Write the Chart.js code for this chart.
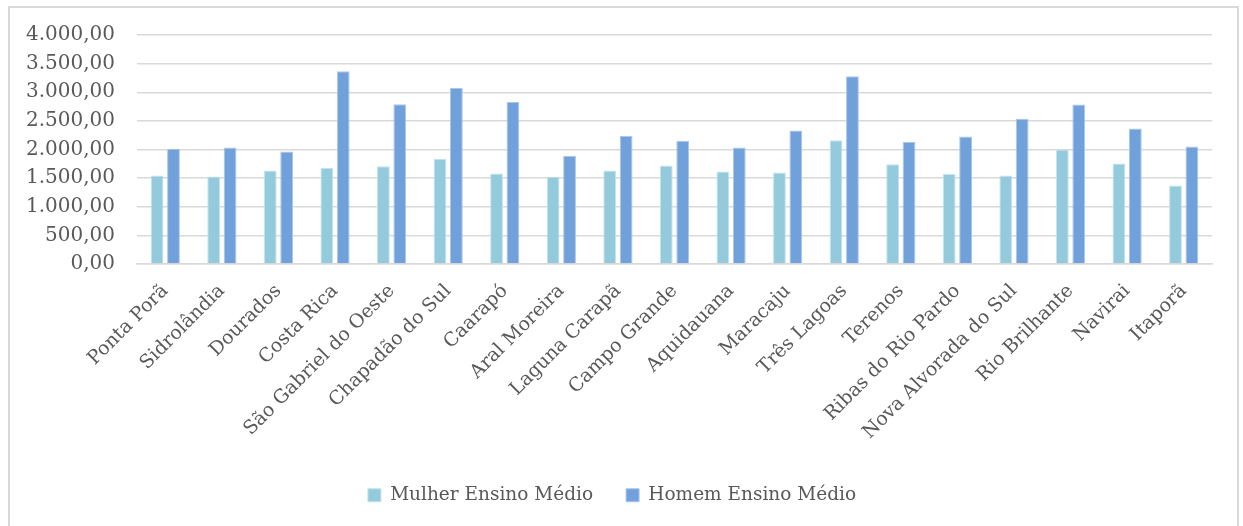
<!DOCTYPE html>
<html lang="pt-BR">
<head>
<meta charset="utf-8">
<title>Rendimento médio – Ensino Médio</title>
<script src="https://cdn.jsdelivr.net/npm/chart.js@4/dist/chart.umd.min.js"></script>
<style>
  html, body { margin: 0; padding: 0; background: #ffffff; }
  #wrap { position: relative; width: 1243px; height: 526px; overflow: hidden; }
  #frame {
    position: absolute; left: 8px; top: 6px; width: 1231px; height: 540px;
    border: 2px solid #d9d9d9; box-sizing: border-box; pointer-events: none;
  }
  canvas { display: block; }
</style>
</head>
<body>
<div id="wrap">
  <canvas id="chart" width="1243" height="526"></canvas>
  <div id="frame"></div>
</div>
<script>
// Municípios
const categories = [
  'Ponta Porã', 'Sidrolândia', 'Dourados', 'Costa Rica', 'São Gabriel do Oeste',
  'Chapadão do Sul', 'Caarapó', 'Aral Moreira', 'Laguna Carapã', 'Campo Grande',
  'Aquidauana', 'Maracaju', 'Três Lagoas', 'Terenos', 'Ribas do Rio Pardo',
  'Nova Alvorada do Sul', 'Rio Brilhante', 'Navirai', 'Itaporã'
];

// Rendimento médio (R$)
const mulherEnsinoMedio = [
  1545, 1528, 1633, 1675, 1709,
  1837, 1581, 1523, 1633, 1720,
  1615, 1598, 2163, 1744, 1570,
  1545, 1999, 1755, 1371
];
const homemEnsinoMedio = [
  2011, 2034, 1964, 3367, 2791,
  3075, 2831, 1889, 2238, 2151,
  2034, 2331, 3280, 2134, 2226,
  2535, 2784, 2365, 2052
];

const seriesNames = ['Mulher Ensino Médio', 'Homem Ensino Médio'];

// Eixo Y
const yMin = 0;
const yMax = 4000;
const yStep = 500;

function formatBR(v) {
  const fixed = Math.abs(v).toFixed(2);
  const [intPart, dec] = fixed.split('.');
  const withDots = intPart.replace(/\B(?=(\d{3})+(?!\d))/g, '.');
  return (v < 0 ? '-' : '') + withDots + ',' + dec;
}

const textColor = '#595959';
const gridColor = '#d9d9d9';
const serif = "'DejaVu Serif', 'Liberation Serif', serif";

new Chart(document.getElementById('chart'), {
  type: 'bar',
  data: {
    labels: categories,
    datasets: [
      {
        label: seriesNames[0],
        data: mulherEnsinoMedio,
        backgroundColor: '#94cbdc',
        borderColor: '#c4e3ec',
        borderWidth: 1,
        barPercentage: 0.78,
        categoryPercentage: 0.58
      },
      {
        label: seriesNames[1],
        data: homemEnsinoMedio,
        backgroundColor: '#71a1db',
        borderColor: '#a9c6ea',
        borderWidth: 1,
        barPercentage: 0.78,
        categoryPercentage: 0.58
      }
    ]
  },
  options: {
    responsive: false,
    devicePixelRatio: 1,
    animation: false,
    layout: { padding: { left: 12, right: 31, top: 35, bottom: 23 } },
    plugins: {
      tooltip: { enabled: false },
      legend: {
        position: 'bottom',
        maxHeight: 50,
        labels: {
          color: textColor,
          font: { family: serif, size: 18.5 },
          boxWidth: 13,
          boxHeight: 13,
          padding: 33
        }
      }
    },
    scales: {
      x: {
        grid: { display: false },
        border: { display: true, color: gridColor, width: 1.5 },
        ticks: {
          color: textColor,
          font: { family: serif, size: 19 },
          autoSkip: false,
          minRotation: 45,
          maxRotation: 45,
          padding: 8
        },
        afterFit(scale) { scale.height = 189; }
      },
      y: {
        min: yMin,
        max: yMax,
        grid: { color: gridColor, lineWidth: 1.5, drawTicks: false },
        border: { display: false },
        ticks: {
          stepSize: yStep,
          color: textColor,
          font: { family: serif, size: 20 },
          padding: 22,
          callback: (v) => formatBR(v)
        },
        afterFit(scale) { scale.width = 125; }
      }
    }
  }
});
</script>
</body>
</html>
